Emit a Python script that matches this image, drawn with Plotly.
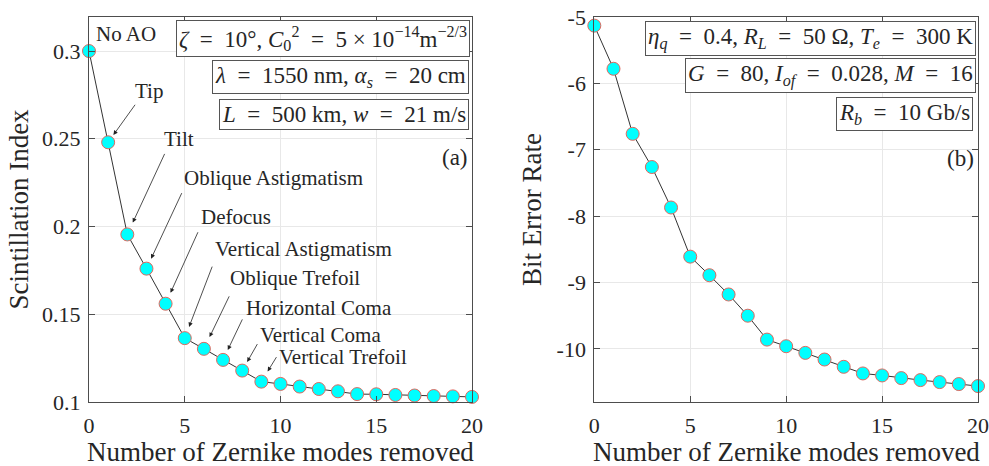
import plotly.graph_objects as go

# ---------------- data ----------------
modes = list(range(0, 21))
scint_index = [0.300, 0.248, 0.1955, 0.176, 0.156, 0.1364, 0.1303, 0.124, 0.1179, 0.1116,
               0.1103, 0.1088, 0.1074, 0.1061, 0.1045, 0.1044, 0.1040, 0.1037, 0.1034, 0.1032, 0.1029]
ber_log = [-5.13, -5.78, -6.76, -7.26, -7.87, -8.61, -8.89, -9.18, -9.50, -9.86,
           -9.96, -10.06, -10.16, -10.27, -10.37, -10.40, -10.44, -10.47, -10.50, -10.53, -10.56]

x_ticks = [0, 5, 10, 15, 20]
left_y_ticks = [0.1, 0.15, 0.2, 0.25, 0.3]
left_y_ticktext = ["0.1", "0.15", "0.2", "0.25", "0.3"]
right_y_ticks = [-10, -9, -8, -7, -6, -5]
right_y_ticktext = ["-10", "-9", "-8", "-7", "-6", "-5"]

x_title_text = "Number of Zernike modes removed"
left_y_title = "Scintillation Index"
right_y_title = "Bit Error Rate"

mode_labels = ["Tip", "Tilt", "Oblique Astigmatism", "Defocus", "Vertical Astigmatism",
               "Oblique Trefoil", "Horizontal Coma", "Vertical Coma", "Vertical Trefoil"]
mode_label_idx = [1, 2, 3, 4, 5, 6, 7, 8, 9]

EQ = "\u2002=\u2002"
left_boxes = ["<i>ζ</i>" + EQ + "10°, <i>C</i><sub>0</sub><sup>2</sup>" + EQ + "5 × 10<sup>−14</sup>m<sup>−2/3</sup>",
              "<i>λ</i>" + EQ + "1550 nm, <i>α<sub>s</sub></i>" + EQ + "20 cm",
              "<i>L</i>" + EQ + "500 km, <i>w</i>" + EQ + "21 m/s"]
right_boxes = ["<i>η<sub>q</sub></i>" + EQ + "0.4, <i>R<sub>L</sub></i>" + EQ + "50 Ω, <i>T<sub>e</sub></i>" + EQ + "300 K",
               "<i>G</i>" + EQ + "80, <i>I<sub>of</sub></i>" + EQ + "0.028, <i>M</i>" + EQ + "16",
               "<i>R<sub>b</sub></i>" + EQ + "10 Gb/s"]

# ---------------- layout / style ----------------
W, H = 989, 466
ML, MR, MT, MB = 89, 11, 17, 64
PW, PH = W - ML - MR, H - MT - MB
FONT = "Liberation Serif"
TXT = "#262626"
marker = dict(size=13, color="#00FFFF", line=dict(color="#E0685E", width=1))
line = dict(color="#333333", width=1)


def px(xp):
    return (xp - ML) / PW


def py(yp):
    return (H - MB - yp) / PH


# label layout (pixel offsets relative to the data point): text (dx, dy), arrow tail (ax, ay)
label_text_off = [(25, -51), (35, -95), (36, -91), (33, -87), (28, -89),
                  (24, -71), (21, -52), (16, -36), (16, -25)]
label_arrow_tail = [(28, -39), (38, -82), (36, -77), (33, -73), (28, -73),
                    (26, -54), (20, -42), (16, -28), (16, -26)]
label_standoff = [9, 13, 11, 12, 12, 13, 11, 10, 12]

fig = go.Figure()
fig.add_trace(go.Scatter(x=modes, y=scint_index, mode="lines+markers", marker=marker,
                         line=line, xaxis="x", yaxis="y", showlegend=False, cliponaxis=False))
fig.add_trace(go.Scatter(x=modes, y=ber_log, mode="lines+markers", marker=marker,
                         line=line, xaxis="x2", yaxis="y2", showlegend=False, cliponaxis=False))

axis_common = dict(showline=True, linecolor="#4d4d4d", linewidth=1, mirror="ticks",
                   ticks="inside", ticklen=6, tickcolor="#4d4d4d", automargin=False,
                   showgrid=True, gridcolor="#e8e8e8", gridwidth=1, zeroline=False,
                   ticklabeloverflow="allow",
                   tickfont=dict(family=FONT, size=22, color=TXT))

title_font = dict(family=FONT, size=27, color=TXT)
left_dom = [0, px(472)]
right_dom = [px(594.3), 1]

fig.update_layout(
    width=W, height=H, margin=dict(l=ML, r=MR, t=MT, b=MB, autoexpand=False),
    paper_bgcolor="white", plot_bgcolor="white",
    font=dict(family=FONT, color=TXT),
    xaxis=dict(domain=left_dom, range=[0, 20], tickvals=x_ticks, anchor="y",
               ticklabelstandoff=4, **axis_common),
    yaxis=dict(domain=[0, 1], range=[0.1, 0.3194], tickvals=left_y_ticks, ticktext=left_y_ticktext,
               anchor="x", ticklabelstandoff=3,
               title=dict(text=left_y_title, font=title_font, standoff=5),
               **axis_common),
    xaxis2=dict(domain=right_dom, range=[0, 20], tickvals=x_ticks, anchor="y2",
                ticklabelstandoff=4, **axis_common),
    yaxis2=dict(domain=[0, 1], range=[-10.8, -5], tickvals=right_y_ticks, ticktext=right_y_ticktext,
                anchor="x2", ticklabelstandoff=3,
                title=dict(text=right_y_title, font=title_font, standoff=7),
                **axis_common),
)

ann = []
# x-axis titles
for dom in (left_dom, right_dom):
    ann.append(dict(x=(dom[0] + dom[1]) / 2, y=py(452), xref="paper", yref="paper", text=x_title_text,
                    showarrow=False, xanchor="center", yanchor="middle", font=title_font))

ann_font = dict(family=FONT, size=21, color=TXT)
# No AO label
ann.append(dict(x=modes[0], y=scint_index[0], xref="x", yref="y", text="No AO", showarrow=False,
                xanchor="left", yanchor="middle", xshift=5, yshift=17, font=ann_font))
for lab, idx, (tdx, tdy), (adx, ady), so in zip(mode_labels, mode_label_idx, label_text_off,
                                                  label_arrow_tail, label_standoff):
    ann.append(dict(x=modes[idx], y=scint_index[idx], xref="x", yref="y", text=lab, showarrow=False,
                    xanchor="left", yanchor="middle", xshift=tdx, yshift=-tdy, font=ann_font))
    ann.append(dict(x=modes[idx], y=scint_index[idx], xref="x", yref="y", text="", showarrow=True,
                    ax=adx, ay=ady, arrowhead=2, arrowsize=1.1, arrowwidth=0.8, arrowcolor="#222222",
                    standoff=so))

box_font = dict(family=FONT, size=23, color=TXT)
left_box_pos = [(470, 38), (469, 76.5), (469, 115)]
right_box_pos = [(976, 38), (976, 75.5), (973, 114)]
for txt, (bx, by) in zip(left_boxes + right_boxes, left_box_pos + right_box_pos):
    ann.append(dict(x=px(bx), y=py(by), xref="paper", yref="paper", text=txt, showarrow=False,
                    xanchor="right", yanchor="middle", bordercolor="#555555", borderwidth=1,
                    borderpad=2, bgcolor="white", font=box_font))
ann.append(dict(x=px(470), y=py(157), xref="paper", yref="paper", text="(a)", showarrow=False,
                xanchor="right", yanchor="middle", font=box_font))
ann.append(dict(x=px(976), y=py(158), xref="paper", yref="paper", text="(b)", showarrow=False,
                xanchor="right", yanchor="middle", font=box_font))

fig.update_layout(annotations=ann)
fig.write_html("out.html", config={"displayModeBar": False},
               post_script="document.body.style.margin='0px';document.body.style.overflow='hidden';")
